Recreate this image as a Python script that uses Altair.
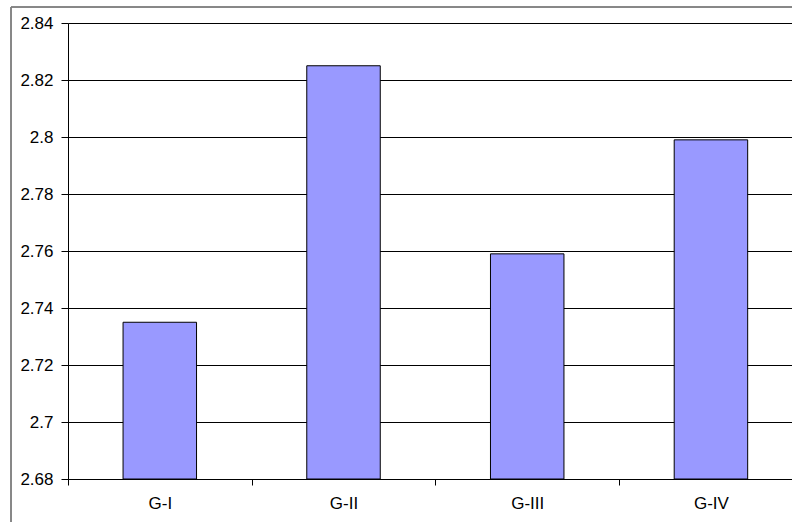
import altair as alt
import pandas as pd

# Mean values per group
groups = ["G-I", "G-II", "G-III", "G-IV"]
values = [2.735, 2.825, 2.759, 2.799]
y_ticks = [2.68, 2.70, 2.72, 2.74, 2.76, 2.78, 2.80, 2.82, 2.84]

df = pd.DataFrame({"group": groups, "value": values})

FONT = "Liberation Sans"
W, H = 724, 456

# Band layout: bar = 40% of each category cell, centred in the cell
PAD_INNER, PAD_OUTER, ALIGN = 0.6, 0.2705, 0.554
STEP = W / (len(groups) - PAD_INNER + 2 * PAD_OUTER)
HALF = STEP / 2

x_scale = alt.Scale(paddingInner=PAD_INNER, paddingOuter=PAD_OUTER, align=ALIGN)
y_scale = alt.Scale(domain=[2.68, 2.84], zero=False, nice=False)

bars = alt.Chart(df).mark_bar(
    fill="#9999FF", stroke="#000000", strokeWidth=1
).encode(
    x=alt.X("group:N", sort=groups, scale=x_scale, title=None,
            axis=alt.Axis(labelAngle=0, grid=False,
                          tickOffset=-HALF, labelOffset=HALF,
                          domainColor="#000000", tickColor="#000000",
                          tickSize=6, labelPadding=10, labelFont=FONT,
                          labelFontSize=17, labelColor="#000000")),
    y=alt.Y("value:Q", scale=y_scale, title=None,
            axis=alt.Axis(values=y_ticks, format="~g", grid=True,
                          gridColor="#000000", gridOpacity=1, gridWidth=1,
                          domainColor="#000000", tickColor="#000000",
                          tickSize=7, labelPadding=8, labelFont=FONT,
                          labelFontSize=17, labelColor="#000000")),
    y2=alt.datum(2.68),
)

# Outer frame of the chart area (left and top edges)
frame_left = alt.Chart(df).mark_rule(color="#808080", strokeWidth=1).encode(
    x=alt.value(-57), y=alt.value(-16), y2=alt.value(H + 60)
)
frame_top = alt.Chart(df).mark_rule(color="#808080", strokeWidth=1).encode(
    x=alt.value(-57), x2=alt.value(W + 20), y=alt.value(-16)
)

chart = alt.layer(bars, frame_left, frame_top).properties(
    width=W, height=H,
    autosize=alt.AutoSizeParams(type="none"),
    padding={"left": 68, "top": 23, "right": 0, "bottom": 43},
    background="#ffffff",
).configure_view(stroke=None)

chart.save("out.html", embed_options={"renderer": "svg", "actions": False})
